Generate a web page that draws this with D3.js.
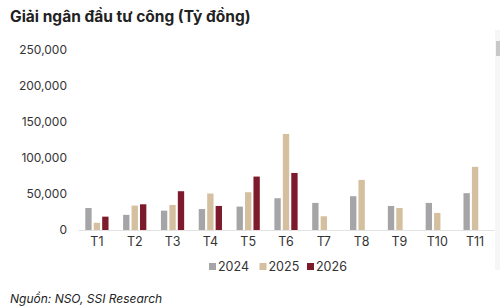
<!DOCTYPE html>
<html><head><meta charset="utf-8">
<script src="https://cdn.jsdelivr.net/npm/d3@7"></script>
<style>
html,body{margin:0;padding:0;background:#fff;overflow:hidden;}
text{font-family:Inter,"Noto Sans",sans-serif;}
</style></head>
<body><svg id="c" width="500" height="308"></svg>
<script>
const categories = ["T1","T2","T3","T4","T5","T6","T7","T8","T9","T10","T11"];
const seriesNames = ["2024","2025","2026"];
const s2024 = [30500, 21000, 26800, 29000, 32400, 44000, 37500, 46800, 33300, 37500, 51000];
const s2025 = [10000, 33800, 34700, 50500, 52300, 133000, 19000, 69400, 30500, 23600, 87500];
const s2026 = [18500, 35600, 53700, 33300, 74000, 79000, null, null, null, null, null];
const yTicks = [0, 50000, 100000, 150000, 200000, 250000];
const colors = ["#a5a5a7", "#d4bf9f", "#7d1a2c"];

const svg = d3.select("#c");
const series = [s2024, s2025, s2026];
const x0 = d3.scaleBand().domain(categories).range([78, 494]).paddingInner(0.33).paddingOuter(0.165);
const x1 = d3.scaleBand().domain(seriesNames).range([0, x0.bandwidth()]).paddingInner(0.25).paddingOuter(0.125);
const y = d3.scaleLinear().domain([0, 250000]).range([230, 49.5]);

// title
svg.append("text").attr("x", 10).attr("y", 22).attr("font-size", 15.5).attr("font-weight", 700)
  .attr("fill", "#222").text("Giải ngân đầu tư công (Tỷ đồng)");

// y axis
const yAxis = d3.axisLeft(y).tickValues(yTicks).tickFormat(d3.format(",")).tickSize(0).tickPadding(0);
const ya = svg.append("g").attr("transform", "translate(67,0)").call(yAxis);
ya.select(".domain").remove();
ya.selectAll("text").attr("font-size", 12).attr("fill", "#333").attr("font-family", "Inter,'Noto Sans',sans-serif");

// bars
categories.forEach((c, i) => {
  series.forEach((s, j) => {
    if (s[i] == null) return;
    svg.append("rect")
      .attr("x", x0(c) + x1(seriesNames[j]))
      .attr("y", y(s[i]))
      .attr("width", x1.bandwidth())
      .attr("height", y(0) - y(s[i]))
      .attr("fill", colors[j]);
  });
});

// x axis
const xAxis = d3.axisBottom(x0).tickSize(0).tickPadding(7);
const xa = svg.append("g").attr("transform", "translate(0,230)").call(xAxis);
xa.select(".domain").attr("stroke", "#e3e3e3").attr("stroke-width", 1);
xa.selectAll("text").attr("font-size", 12.5).attr("fill", "#333").attr("font-family", "Inter,'Noto Sans',sans-serif");

// legend
const legX = [209, 259.5, 307];
seriesNames.forEach((n, j) => {
  svg.append("rect").attr("x", legX[j]).attr("y", 263).attr("width", 7).attr("height", 7).attr("fill", colors[j]);
  svg.append("text").attr("x", legX[j] + 9).attr("y", 270.5).attr("font-size", 12.5).attr("fill", "#333").text(n);
});

// source
svg.append("text").attr("x", 10).attr("y", 303).attr("font-size", 12).attr("font-style", "italic")
  .attr("fill", "#222").text("Nguồn: NSO, SSI Research");

// scrollbar artifact
svg.append("rect").attr("x", 495).attr("y", 30).attr("width", 5).attr("height", 240).attr("fill", "#f6f6f6");
svg.append("rect").attr("x", 496).attr("y", 41).attr("width", 4).attr("height", 15).attr("fill", "#c8c8c8");
</script></body></html>
